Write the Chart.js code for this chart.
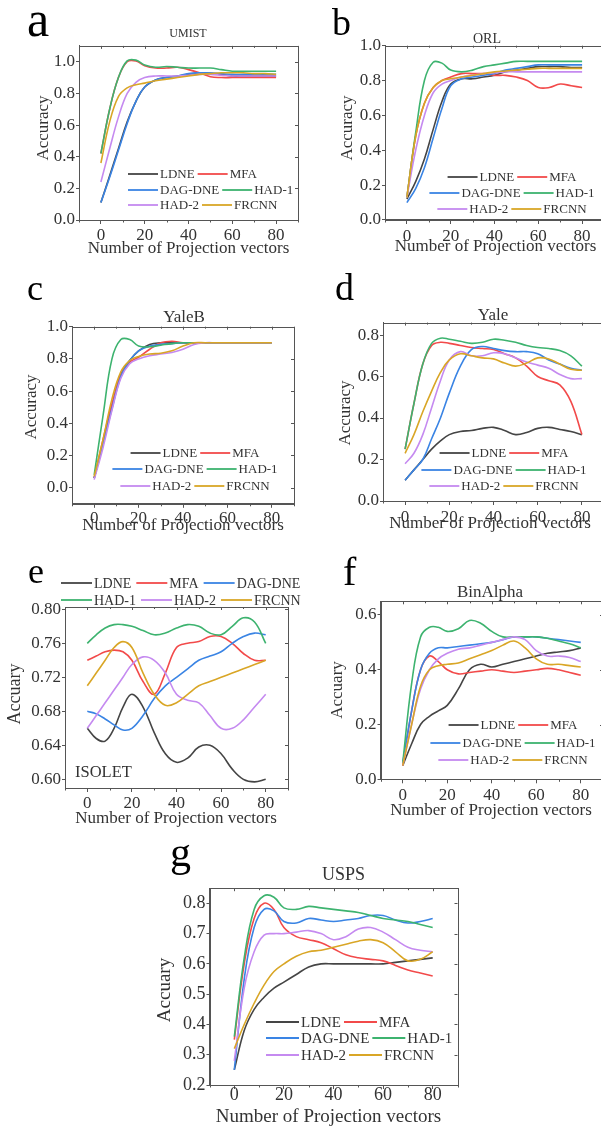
<!DOCTYPE html>
<html><head><meta charset="utf-8">
<script src="https://cdn.jsdelivr.net/npm/chart.js@4/dist/chart.umd.min.js"></script>
<style>
html,body{margin:0;padding:0;background:#fff;width:601px;height:1127px;overflow:hidden;}
canvas{position:absolute;left:0;top:0;}
</style></head><body>
<canvas id="ca" width="620" height="1127"></canvas>
<canvas id="cb" width="620" height="1127"></canvas>
<canvas id="cc" width="620" height="1127"></canvas>
<canvas id="cd" width="620" height="1127"></canvas>
<canvas id="ce" width="620" height="1127"></canvas>
<canvas id="cf" width="620" height="1127"></canvas>
<canvas id="cg" width="620" height="1127"></canvas>
<script>
// ---------- DATA ----------
const X = [0,4,8,12,16,20,25,30,35,40,45,50,55,60,65,70,75,80];
const SERIES = ['LDNE','MFA','DAG-DNE','HAD-1','HAD-2','FRCNN'];
const XTICKS = [0,20,40,60,80];

// (a) UMIST
const UMIST_LDNE  = [.11,.28,.45,.62,.75,.84,.885,.90,.91,.92,.93,.925,.92,.91,.91,.91,.91,.91];
const UMIST_MFA   = [.42,.70,.90,1.0,1.005,.975,.96,.96,.965,.95,.93,.905,.90,.90,.90,.90,.90,.90];
const UMIST_DAG   = [.11,.27,.44,.61,.75,.84,.885,.90,.91,.925,.93,.93,.925,.92,.92,.92,.92,.92];
const UMIST_HAD1  = [.42,.70,.90,1.005,1.01,.98,.965,.97,.965,.96,.96,.96,.95,.94,.94,.94,.94,.94];
const UMIST_HAD2  = [.24,.45,.65,.80,.87,.90,.91,.91,.91,.915,.92,.92,.915,.91,.91,.91,.91,.91];
const UMIST_FRCNN = [.36,.62,.78,.835,.855,.865,.88,.89,.90,.91,.92,.925,.93,.93,.93,.925,.925,.92];
// (b) ORL
const ORL_LDNE  = [.12,.22,.35,.52,.68,.78,.81,.81,.82,.83,.85,.86,.87,.88,.88,.88,.875,.875];
const ORL_MFA   = [.13,.48,.67,.76,.80,.82,.84,.84,.84,.83,.83,.82,.80,.76,.76,.78,.77,.76];
const ORL_DAG   = [.10,.18,.30,.47,.64,.77,.81,.82,.83,.84,.86,.87,.88,.89,.89,.89,.89,.89];
const ORL_HAD1  = [.13,.50,.80,.905,.90,.86,.85,.86,.88,.89,.90,.91,.91,.91,.91,.91,.91,.91];
const ORL_HAD2  = [.13,.40,.60,.73,.78,.80,.82,.83,.84,.845,.85,.85,.85,.85,.85,.85,.85,.85];
const ORL_FRCNN = [.13,.48,.67,.76,.80,.81,.82,.83,.84,.85,.855,.86,.865,.87,.87,.87,.87,.87];
// (c) YaleB
const YALEB_LDNE  = [.06,.28,.50,.70,.79,.85,.89,.90,.90,.90,.90,.90,.90,.90,.90,.90,.90,.90];
const YALEB_MFA   = [.06,.30,.52,.70,.78,.81,.86,.90,.91,.90,.90,.90,.90,.90,.90,.90,.90,.90];
const YALEB_DAG   = [.06,.27,.49,.69,.79,.85,.88,.89,.895,.90,.90,.90,.90,.90,.90,.90,.90,.90];
const YALEB_HAD1  = [.08,.45,.80,.92,.92,.88,.875,.885,.895,.90,.90,.90,.90,.90,.90,.90,.90,.90];
const YALEB_HAD2  = [.05,.25,.48,.68,.77,.80,.82,.83,.84,.86,.89,.90,.90,.90,.90,.90,.90,.90];
const YALEB_FRCNN = [.07,.30,.55,.72,.79,.815,.83,.835,.85,.88,.90,.90,.90,.90,.90,.90,.90,.90];
// (d) Yale
const YALE_LDNE  = [.10,.15,.20,.25,.29,.32,.335,.34,.35,.355,.34,.32,.33,.35,.355,.345,.335,.32];
const YALE_MFA   = [.25,.47,.66,.75,.765,.76,.75,.74,.735,.73,.71,.69,.65,.60,.58,.56,.48,.32];
const YALE_DAG   = [.10,.15,.20,.30,.40,.52,.65,.73,.745,.735,.725,.72,.72,.71,.68,.66,.64,.63];
const YALE_HAD1  = [.25,.47,.66,.76,.785,.78,.77,.76,.765,.78,.775,.765,.75,.74,.735,.725,.70,.65];
const YALE_HAD2  = [.18,.23,.32,.45,.58,.68,.72,.70,.70,.715,.71,.69,.67,.655,.64,.61,.59,.59];
const YALE_FRCNN = [.23,.32,.43,.53,.62,.68,.71,.70,.69,.685,.665,.65,.665,.69,.685,.66,.635,.63];
// (e) ISOLET
const ISOLET_LDNE  = [.66,.648,.645,.66,.685,.70,.685,.655,.63,.62,.625,.638,.64,.63,.612,.60,.597,.60];
const ISOLET_MFA   = [.74,.745,.75,.752,.75,.74,.715,.70,.725,.755,.76,.762,.768,.768,.76,.748,.74,.74];
const ISOLET_DAG   = [.68,.677,.671,.664,.658,.66,.675,.695,.71,.72,.73,.74,.745,.75,.76,.768,.772,.77];
const ISOLET_HAD1  = [.76,.77,.778,.782,.782,.78,.775,.77,.772,.778,.782,.78,.772,.77,.78,.79,.785,.76];
const ISOLET_HAD2  = [.66,.675,.69,.705,.72,.735,.744,.74,.725,.70,.693,.69,.675,.66,.66,.67,.685,.70];
const ISOLET_FRCNN = [.71,.725,.74,.755,.762,.755,.725,.70,.687,.69,.70,.71,.715,.72,.725,.73,.735,.74];
// (f) BinAlpha
const BIN_LDNE  = [.05,.13,.20,.23,.25,.27,.33,.40,.42,.41,.42,.43,.44,.45,.46,.465,.47,.48];
const BIN_MFA   = [.05,.25,.40,.45,.43,.40,.385,.39,.395,.40,.395,.39,.395,.40,.405,.40,.39,.38];
const BIN_DAG   = [.06,.25,.40,.46,.48,.48,.485,.49,.495,.50,.51,.52,.52,.52,.515,.51,.505,.50];
const BIN_HAD1  = [.06,.35,.52,.555,.555,.54,.55,.58,.57,.54,.52,.52,.52,.52,.515,.505,.495,.48];
const BIN_HAD2  = [.05,.20,.33,.40,.44,.46,.475,.48,.49,.50,.51,.52,.51,.47,.45,.45,.445,.43];
const BIN_FRCNN = [.05,.20,.34,.40,.415,.42,.425,.44,.455,.47,.49,.505,.48,.44,.42,.42,.415,.41];
// (g) USPS
const USPS_LDNE  = [.25,.38,.45,.49,.52,.54,.565,.59,.60,.60,.60,.60,.60,.60,.605,.61,.615,.62];
const USPS_MFA   = [.35,.60,.75,.80,.78,.72,.69,.68,.67,.65,.63,.62,.615,.61,.595,.58,.57,.56];
const USPS_DAG   = [.25,.55,.72,.78,.775,.74,.735,.75,.745,.74,.745,.75,.76,.76,.745,.735,.74,.75];
const USPS_HAD1  = [.36,.62,.78,.825,.82,.785,.78,.79,.785,.78,.775,.77,.76,.75,.745,.74,.73,.72];
const USPS_HAD2  = [.28,.52,.64,.695,.70,.70,.705,.71,.70,.68,.69,.715,.72,.705,.68,.655,.645,.64];
const USPS_FRCNN = [.32,.40,.47,.53,.575,.60,.625,.64,.645,.655,.665,.675,.68,.67,.64,.61,.615,.64];

const YT_A = [0,0.2,0.4,0.6,0.8,1.0];
const YT_D = [0,0.2,0.4,0.6,0.8];
const YT_E = [0.60,0.64,0.68,0.72,0.76,0.80];
const YT_F = [0,0.2,0.4,0.6];
const YT_G = [0.2,0.3,0.4,0.5,0.6,0.7,0.8];

// ---------- STYLE / LAYOUT ----------
const COLORS = ['#454545','#f24a4a','#3a84e4','#3db36f','#c58af0','#d9a626'];
const FONT = '"Liberation Serif","Times New Roman",serif';
const W = 620, H = 1127, YW = 40, XH = 40;

const PANELS = [
 {id:'ca', series:[UMIST_LDNE,UMIST_MFA,UMIST_DAG,UMIST_HAD1,UMIST_HAD2,UMIST_FRCNN], yMin:0, yMax:1.1, yTicks:YT_A, dec:1,
  rect:{L:79,T:45.9,R:298,B:220}, tick:17, xpad:1,
  title:{t:'UMIST',x:188,y:37,s:12}, letter:{t:'a',x:27,y:36,s:50},
  ytitle:{t:'Accuracy',x:44,y:128,s:17}, xtitle:{x:188.5,y:253,s:17},
  legend:{mode:'left',x:128,rows:[174,190,205],s:13,len:30}},
 {id:'cb', series:[ORL_LDNE,ORL_MFA,ORL_DAG,ORL_HAD1,ORL_HAD2,ORL_FRCNN], yMin:0, yMax:1.0, yTicks:YT_A, dec:1,
  rect:{L:385,T:45.7,R:604,B:220}, tick:17, xpad:2,
  title:{t:'ORL',x:487,y:43,s:14}, letter:{t:'b',x:332,y:35,s:38},
  ytitle:{t:'Accuracy',x:348,y:128,s:17}, xtitle:{x:495.5,y:251,s:17},
  legend:{mode:'center',x:512,rows:[177,193,209],s:13,len:30}},
 {id:'cc', series:[YALEB_LDNE,YALEB_MFA,YALEB_DAG,YALEB_HAD1,YALEB_HAD2,YALEB_FRCNN], yMin:-0.1, yMax:1.0, yTicks:YT_A, dec:1,
  rect:{L:72,T:326.7,R:294,B:503.8}, tick:17, xpad:1,
  title:{t:'YaleB',x:184,y:321.6,s:17}, letter:{t:'c',x:27,y:300,s:36},
  ytitle:{t:'Accuracy',x:32,y:407,s:17}, xtitle:{x:183,y:530,s:17},
  legend:{mode:'center',x:195,rows:[453,469,486],s:13,len:30}},
 {id:'cd', series:[YALE_LDNE,YALE_MFA,YALE_DAG,YALE_HAD1,YALE_HAD2,YALE_FRCNN], yMin:0, yMax:0.86, yTicks:YT_D, dec:1,
  rect:{L:383,T:322.6,R:604,B:501}, tick:17, xpad:2,
  title:{t:'Yale',x:493,y:320,s:17}, letter:{t:'d',x:335,y:300,s:38},
  ytitle:{t:'Accuracy',x:346,y:413,s:17}, xtitle:{x:490,y:528,s:17},
  legend:{mode:'center',x:504,rows:[453,470,486],s:13,len:30}},
 {id:'ce', series:[ISOLET_LDNE,ISOLET_MFA,ISOLET_DAG,ISOLET_HAD1,ISOLET_HAD2,ISOLET_FRCNN], yMin:0.5898, yMax:0.8027, yTicks:YT_E, dec:2,
  rect:{L:65,T:607,R:288,B:788}, tick:17, xpad:1,
  title:null, letter:{t:'e',x:28,y:583,s:36},
  ytitle:{t:'Accuary',x:15,y:694,s:18}, xtitle:{x:176,y:823,s:17},
  legend:{mode:'left',cols:3,gap:5,x:61,rows:[583,600],s:14,len:31},
  note:{t:'ISOLET',x:75,y:777,s:16.5}},
 {id:'cf', series:[BIN_LDNE,BIN_MFA,BIN_DAG,BIN_HAD1,BIN_HAD2,BIN_FRCNN], yMin:0, yMax:0.65, yTicks:YT_F, dec:1,
  rect:{L:380.5,T:601.3,R:603,B:779.3}, tick:17, xpad:2,
  title:{t:'BinAlpha',x:490,y:597,s:17}, letter:{t:'f',x:343,y:585,s:40},
  ytitle:{t:'Accuary',x:338,y:690,s:17}, xtitle:{x:491,y:815,s:17},
  legend:{mode:'center',x:513,rows:[725,743,760],s:13,len:30}},
 {id:'cg', series:[USPS_LDNE,USPS_MFA,USPS_DAG,USPS_HAD1,USPS_HAD2,USPS_FRCNN], yMin:0.2, yMax:0.85, yTicks:YT_G, dec:1,
  rect:{L:209.5,T:888.2,R:457.5,B:1085}, tick:18, xpad:-5,
  title:{t:'USPS',x:343.5,y:880,s:18}, letter:{t:'g',x:170,y:866,s:42},
  ytitle:{t:'Accuary',x:165,y:990,s:19}, xtitle:{x:328.5,y:1122,s:19},
  legend:{mode:'left',x:266,rows:[1022,1038,1055],s:15,len:33}}
];

function drawLegend(ctx, chart, lg){
  const cols = lg.cols || 2, gap = lg.gap || 3;
  const ds = chart.data.datasets;
  ctx.font = lg.s + 'px ' + FONT;
  lg.rows.forEach((ry, r) => {
    const items = [];
    for (let c = 0; c < cols; c++){ const i = r*cols + c; if (i < ds.length) items.push(ds[i]); }
    let total = 0;
    items.forEach((d, k) => { total += lg.len + 2 + ctx.measureText(d.label).width + (k < items.length-1 ? gap : 0); });
    let x = lg.mode === 'center' ? lg.x - total/2 : lg.x;
    items.forEach(d => {
      ctx.strokeStyle = d.borderColor; ctx.lineWidth = 1.8;
      ctx.beginPath(); ctx.moveTo(x, ry); ctx.lineTo(x + lg.len, ry); ctx.stroke();
      x += lg.len + 2;
      ctx.fillStyle = '#333'; ctx.textAlign = 'left'; ctx.textBaseline = 'middle';
      ctx.fillText(d.label, x, ry + 1);
      x += ctx.measureText(d.label).width + gap;
    });
  });
}

const deco = {
  id:'deco',
  afterDraw(chart){
    const p = chart.options.plugins.deco.p;
    const ctx = chart.ctx, a = chart.chartArea;
    const xs = chart.scales.x, ys = chart.scales.y;
    ctx.save();
    ctx.strokeStyle = '#555'; ctx.lineWidth = 1;
    ctx.strokeRect(Math.round(a.left)+0.5, Math.round(a.top)+0.5, Math.round(a.right-a.left), Math.round(a.bottom-a.top));
    ctx.beginPath();
    XTICKS.forEach(v => { const px = Math.round(xs.getPixelForValue(v))+0.5; ctx.moveTo(px, a.top); ctx.lineTo(px, a.top+3); });
    [-10,10,30,50,70,90].forEach(v => { const px = Math.round(xs.getPixelForValue(v))+0.5;
      ctx.moveTo(px, a.bottom); ctx.lineTo(px, a.bottom+2.5); ctx.moveTo(px, a.top); ctx.lineTo(px, a.top+2); });
    p.yTicks.forEach(v => { const py = Math.round(ys.getPixelForValue(v))+0.5; ctx.moveTo(a.right, py); ctx.lineTo(a.right-3, py); });
    ctx.stroke();
    ctx.font = p.letter.s + 'px ' + FONT; ctx.textAlign = 'left'; ctx.textBaseline = 'alphabetic';
    ctx.fillStyle = '#000'; ctx.fillText(p.letter.t, p.letter.x, p.letter.y);
    ctx.fillStyle = '#333';
    if (p.title){ ctx.font = p.title.s + 'px ' + FONT; ctx.textAlign = 'center'; ctx.fillText(p.title.t, p.title.x, p.title.y); }
    if (p.note){ ctx.font = p.note.s + 'px ' + FONT; ctx.textAlign = 'left'; ctx.fillText(p.note.t, p.note.x, p.note.y); }
    ctx.font = p.xtitle.s + 'px ' + FONT; ctx.textAlign = 'center';
    ctx.fillText('Number of Projection vectors', p.xtitle.x, p.xtitle.y);
    ctx.save(); ctx.translate(p.ytitle.x, p.ytitle.y); ctx.rotate(-Math.PI/2);
    ctx.font = p.ytitle.s + 'px ' + FONT; ctx.textAlign = 'center'; ctx.textBaseline = 'middle';
    ctx.fillText(p.ytitle.t, 0, 0); ctx.restore();
    drawLegend(ctx, chart, p.legend);
    ctx.restore();
  }
};

PANELS.forEach(p => {
  const r = p.rect;
  const datasets = SERIES.map((name, i) => ({
    label: name,
    data: X.map((x, k) => ({x: x, y: p.series[i][k]})),
    borderColor: COLORS[i], backgroundColor: COLORS[i],
    borderWidth: 1.6, pointRadius: 0, tension: 0.4, fill: false,
    order: SERIES.length - i
  }));
  new Chart(document.getElementById(p.id), {
    type: 'line',
    data: { datasets },
    options: {
      responsive: false, animation: false, events: [],
      layout: { padding: { left: r.L - YW, top: r.T, right: W - r.R, bottom: H - r.B - XH } },
      plugins: { legend: {display:false}, tooltip: {enabled:false}, title:{display:false}, deco: {p: p} },
      scales: {
        x: { type:'linear', min:-10, max:90,
             afterBuildTicks: s => { s.ticks = XTICKS.map(v => ({value:v})); },
             afterFit: s => { s.height = XH; },
             grid: { drawOnChartArea:false, tickLength:4, color:'#555' },
             border: { color:'#555' },
             ticks: { font:{family:FONT, size:p.tick}, color:'#333', padding:p.xpad, maxRotation:0, autoSkip:false,
                      callback: v => String(v) } },
        y: { type:'linear', min:p.yMin, max:p.yMax,
             afterBuildTicks: s => { s.ticks = p.yTicks.map(v => ({value:v})); },
             afterFit: s => { s.width = YW; },
             grid: { drawOnChartArea:false, tickLength:3, color:'#555' },
             border: { color:'#555' },
             ticks: { font:{family:FONT, size:p.tick}, color:'#333', padding:1, autoSkip:false,
                      callback: v => Number(v).toFixed(p.dec) } }
      }
    },
    plugins: [deco]
  });
});
</script>
</body></html>
